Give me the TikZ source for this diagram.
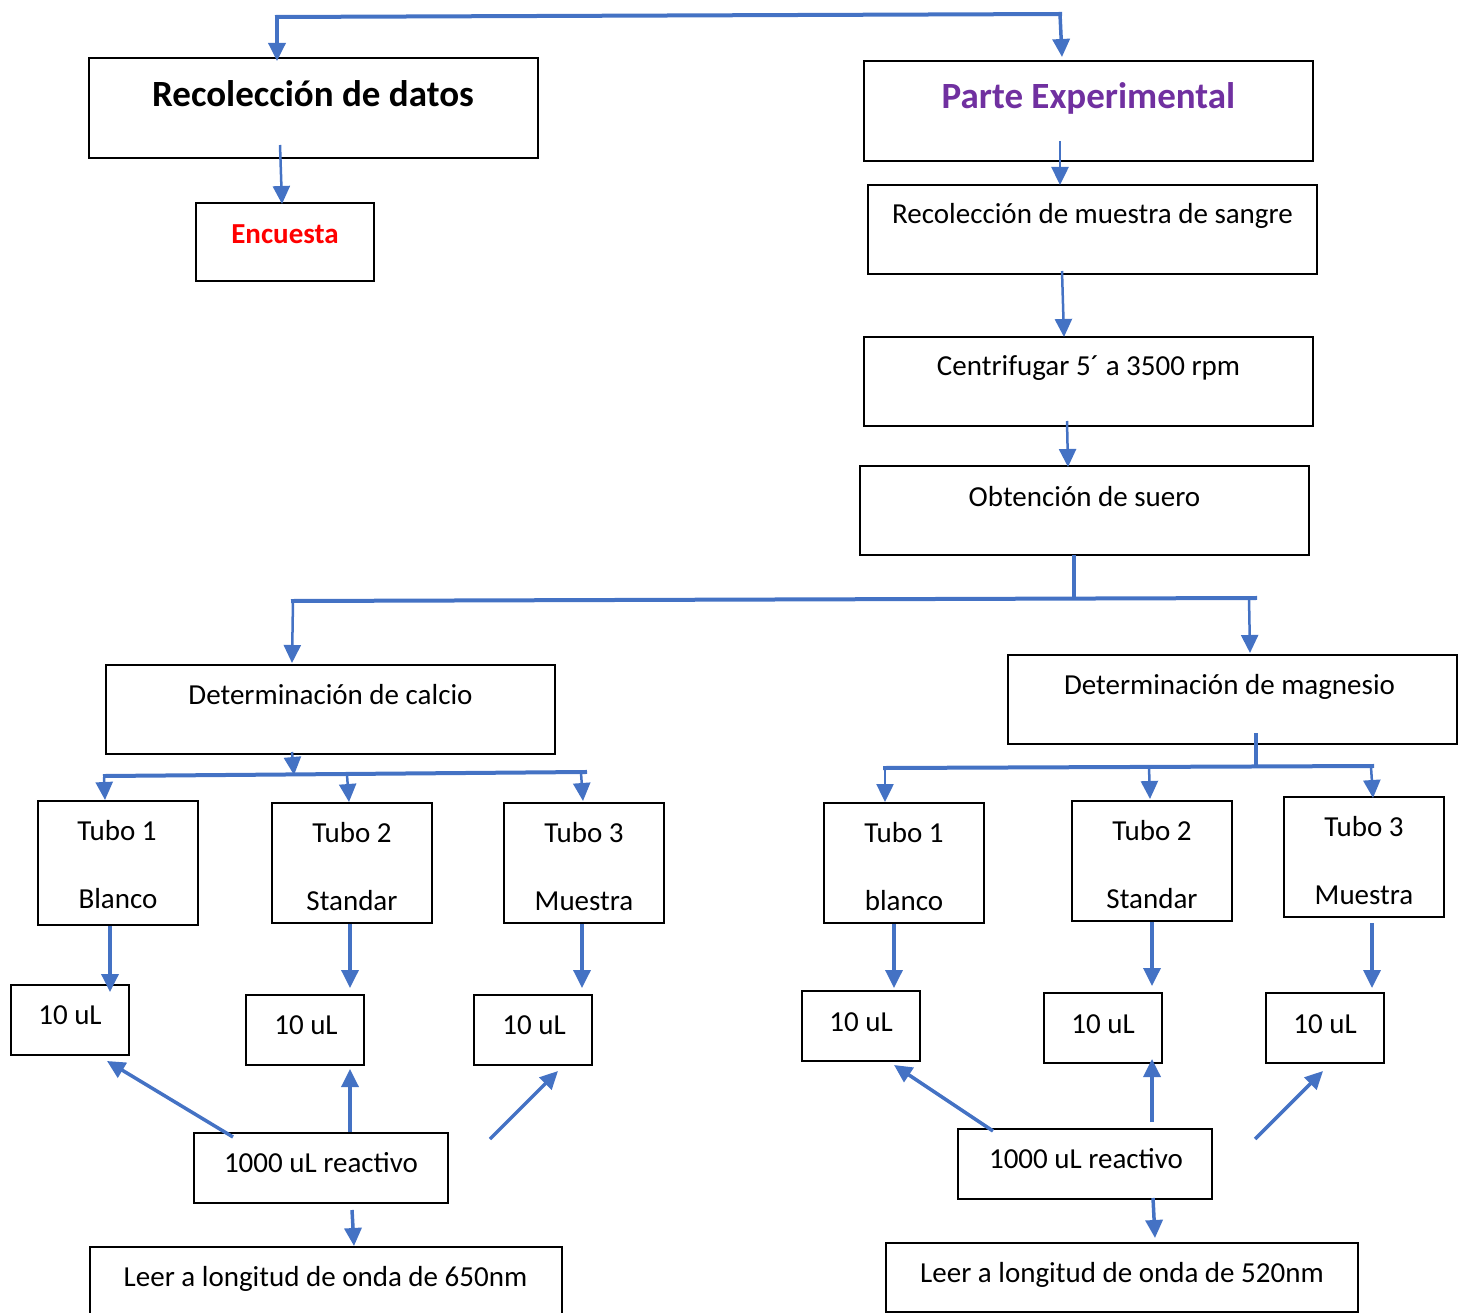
\documentclass[tikz,border=0pt]{standalone}
\usepackage{fontspec}
\setmainfont{Carlito}
\usetikzlibrary{arrows.meta}
\definecolor{arrblue}{HTML}{4472C4}
\definecolor{titpurple}{HTML}{7030A0}
\definecolor{titred}{HTML}{FF0000}
\begin{document}
\begin{tikzpicture}[x=1pt,y=-1pt,
 box/.style={draw=black, line width=2pt, inner sep=0pt},
 txt/.style={anchor=base, inner sep=0pt, font=\fontsize{29}{34}\selectfont},
 ttl/.style={anchor=base, inner sep=0pt, font=\fontsize{37}{44}\selectfont\bfseries},
 conn/.style={draw=arrblue, line width=4pt, line cap=rect},
 arrA/.style={draw=arrblue, line width=#1, -{Triangle[length=18pt,width=17pt]}},
 arrA/.default=3pt,
]
\useasboundingbox (0,0) rectangle (1464,1313);

% ---------- boxes ----------
\node[box, minimum width=449pt, minimum height=100pt] (rd) at (313.5,108) {};
\node[box, minimum width=178pt, minimum height=78pt] (enc) at (285,242) {};
\node[box, minimum width=449pt, minimum height=100pt] (pe) at (1088.5,111) {};
\node[box, minimum width=449pt, minimum height=89pt] (rms) at (1092.5,229.5) {};
\node[box, minimum width=449pt, minimum height=89pt] (cen) at (1088.5,381.5) {};
\node[box, minimum width=449pt, minimum height=89pt] (obt) at (1084.5,510.5) {};
\node[box, minimum width=449pt, minimum height=89pt] (dc) at (330.5,709.5) {};
\node[box, minimum width=449pt, minimum height=89pt] (dm) at (1232.5,699.5) {};

\node[box, minimum width=160pt, minimum height=124pt] (ct1) at (118,863) {};
\node[box, minimum width=160pt, minimum height=120pt] (ct2) at (352,863) {};
\node[box, minimum width=160pt, minimum height=120pt] (ct3) at (584,863) {};
\node[box, minimum width=160pt, minimum height=120pt] (mt1) at (904,863) {};
\node[box, minimum width=160pt, minimum height=120pt] (mt2) at (1152,861) {};
\node[box, minimum width=160pt, minimum height=120pt] (mt3) at (1364,857) {};

\node[box, minimum width=118pt, minimum height=70pt] (cu1) at (70,1020) {};
\node[box, minimum width=118pt, minimum height=70pt] (cu2) at (305,1030) {};
\node[box, minimum width=118pt, minimum height=70pt] (cu3) at (533,1030) {};
\node[box, minimum width=118pt, minimum height=70pt] (mu1) at (861,1026) {};
\node[box, minimum width=118pt, minimum height=70pt] (mu2) at (1103,1028) {};
\node[box, minimum width=118pt, minimum height=70pt] (mu3) at (1325,1028) {};

\node[box, minimum width=254pt, minimum height=70pt] (cr) at (321,1168) {};
\node[box, minimum width=254pt, minimum height=70pt] (mr) at (1085,1164) {};
\node[box, minimum width=472pt, minimum height=72pt] (cl) at (326,1283) {};
\node[box, minimum width=472pt, minimum height=69pt] (ml) at (1122,1277.5) {};

% ---------- texts ----------
\node[ttl] (rdt) at (313,107) {Recolección de datos};
\node[txt, font=\fontsize{29}{34}\selectfont\bfseries, text=titred] (enct) at (285,243.5) {Encuesta};
\node[ttl, text=titpurple] (pet) at (1088.5,109) {Parte Experimental};
\node[txt] (rmst) at (1092.5,223.5) {Recolección de muestra de sangre};
\node[txt] (cent) at (1088.5,376) {Centrifugar 5´ a 3500 rpm};
\node[txt] (obtt) at (1084.5,506) {Obtención de suero};
\node[txt] (dct) at (330.5,704) {Determinación de calcio};
\node[txt] (dmt) at (1229.5,694) {Determinación de magnesio};

\node[txt] (ct1a) at (117,840.5) {Tubo 1};
\node[txt] (ct1b) at (118,908) {Blanco};
\node[txt] (ct2a) at (352,842.5) {Tubo 2};
\node[txt] (ct2b) at (352,910.5) {Standar};
\node[txt] (ct3a) at (584,842.5) {Tubo 3};
\node[txt] (ct3b) at (584,910.5) {Muestra};
\node[txt] (mt1a) at (904,842.5) {Tubo 1};
\node[txt] (mt1b) at (904,910.5) {blanco};
\node[txt] (mt2a) at (1152,840.5) {Tubo 2};
\node[txt] (mt2b) at (1152,908) {Standar};
\node[txt] (mt3a) at (1364,836.5) {Tubo 3};
\node[txt] (mt3b) at (1364,904) {Muestra};

\node[txt] (cu1t) at (70,1024.5) {10 uL};
\node[txt] (cu2t) at (306,1034.5) {10 uL};
\node[txt] (cu3t) at (534,1034.5) {10 uL};
\node[txt] (mu1t) at (861,1031) {10 uL};
\node[txt] (mu2t) at (1103,1033) {10 uL};
\node[txt] (mu3t) at (1325,1033) {10 uL};
\node[txt] (crt) at (321,1172) {1000 uL reactivo};
\node[txt] (mrt) at (1086,1168) {1000 uL reactivo};
\node[txt] (clt) at (325.5,1286) {Leer a longitud de onda de 650nm};
\node[txt] (mlt) at (1122,1282) {Leer a longitud de onda de 520nm};

% ---------- connector points ----------
\coordinate (topL) at (277,17);
\coordinate (topR) at (1060,14);
\coordinate (rdIn) at (277,61);
\coordinate (peIn) at (1062,57);
\coordinate (rdOut) at (280,145);
\coordinate (encIn) at (282,204);
\coordinate (peOut) at (1060,141);
\coordinate (rmsIn) at (1060,185);
\coordinate (rmsOut) at (1062,271);
\coordinate (cenIn) at (1064,337);
\coordinate (cenOut) at (1067,421);
\coordinate (obtIn) at (1068,467);
\coordinate (obtOut) at (1074,555);
\coordinate (obtJ) at (1074,599);
\coordinate (hL) at (293,601);
\coordinate (hR) at (1255,598);
\coordinate (dcIn) at (292,663);
\coordinate (hR2) at (1249,598);
\coordinate (dmIn) at (1250,653);
\coordinate (dcOut) at (292,752);
\coordinate (cJ) at (294,775);
\coordinate (cL) at (105,776);
\coordinate (cR) at (585,772);
\coordinate (c1s) at (104,777);
\coordinate (c1e) at (105,800);
\coordinate (c2s) at (347,775);
\coordinate (c2e) at (349,802);
\coordinate (c3s) at (581,773);
\coordinate (c3e) at (583,801);
\coordinate (dmOut) at (1256,733);
\coordinate (dmJ) at (1256,767);
\coordinate (mL) at (885,768);
\coordinate (mR) at (1372,766);
\coordinate (m1e) at (885,802);
\coordinate (m2s) at (1149,767);
\coordinate (m2e) at (1150,799);
\coordinate (m3s) at (1371,767);
\coordinate (m3e) at (1373,798);

% ---------- connectors ----------
\draw[conn] (topL) -- (topR);
\draw[arrA=3.5pt] (topL) -- (rdIn);
\draw[arrA=3.5pt] (topR) -- (peIn);
\draw[arrA=2.5pt] (rdOut) -- (encIn);
\draw[arrA=2.5pt] (peOut) -- (rmsIn);
\draw[arrA=2.5pt] (rmsOut) -- (cenIn);
\draw[arrA=2.5pt] (cenOut) -- (obtIn);

\draw[draw=arrblue, line width=4pt] (obtOut) -- (obtJ);
\draw[conn] (hL) -- (hR);
\draw[arrA=2.5pt] (hL) -- (dcIn);
\draw[arrA=2.5pt] (hR2) -- (dmIn);

\draw[arrA=2.5pt] (dcOut) -- (cJ);
\draw[conn] (cL) -- (cR);
\draw[arrA=2.5pt] (c1s) -- (c1e);
\draw[arrA=2.5pt] (c2s) -- (c2e);
\draw[arrA=2.5pt] (c3s) -- (c3e);

\draw[draw=arrblue, line width=4pt] (dmOut) -- (dmJ);
\draw[conn] (mL) -- (mR);
\draw[arrA=2.5pt] (mL) -- (m1e);
\draw[arrA=2.5pt] (m2s) -- (m2e);
\draw[arrA=2.5pt] (m3s) -- (m3e);

% tubes to 10 uL
\draw[arrA=3.5pt] (ct1.south -| 110,0) -- (110,992) coordinate (t1e);
\draw[arrA=3.5pt] (ct2.south -| 350,0) -- (350,988) coordinate (t2e);
\draw[arrA=3.5pt] (ct3.south -| 582,0) -- (582,988) coordinate (t3e);
\draw[arrA=3.5pt] (mt1.south -| 894,0) -- (894,988) coordinate (t4e);
\draw[arrA=3.5pt] (mt2.south) -- (1152,986) coordinate (t5e);
\draw[arrA=3.5pt] (1372,923) coordinate (t6s) -- (1372,988) coordinate (t6e);

% reactivo arrows (calcio)
\draw[arrA=3.5pt] (233,1137) coordinate (r1s) -- (107,1061) coordinate (r1e);
\draw[arrA=3.5pt] (cr.north -| 350,0) -- (350,1069) coordinate (r2e);
\draw[arrA=3.5pt] (490,1139) coordinate (r3s) -- (558,1071) coordinate (r3e);
\draw[arrA=3.5pt] (352,1210) coordinate (r4s) -- (cl.north -| 354,0);

% reactivo arrows (magnesio)
\draw[arrA=3.5pt] (993,1131) coordinate (s1s) -- (894,1065) coordinate (s1e);
\draw[arrA=3.5pt] (1152,1122) coordinate (s2s) -- (1152,1059) coordinate (s2e);
\draw[arrA=3.5pt] (1255,1139) coordinate (s3s) -- (1323,1071) coordinate (s3e);
\draw[arrA=3.5pt] (1153,1198) coordinate (s4s) -- (1155,1238) coordinate (s4e);
\end{tikzpicture}
\end{document}
